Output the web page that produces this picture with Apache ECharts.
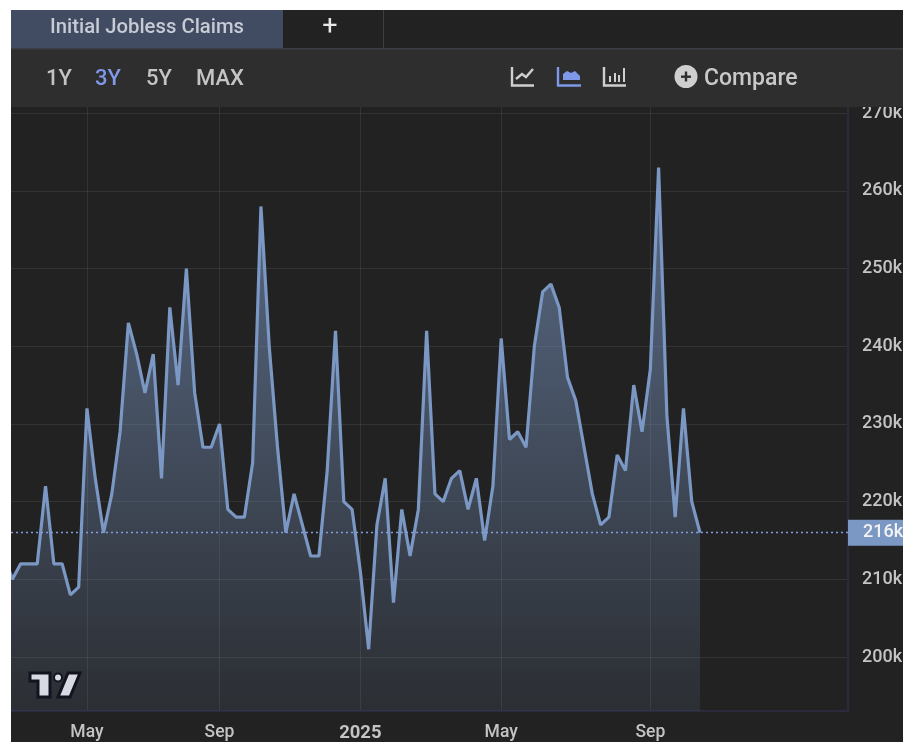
<!DOCTYPE html>
<html>
<head>
<meta charset="utf-8">
<title>Initial Jobless Claims</title>
<style>
html, body { margin: 0; padding: 0; background: #fff; }
#main { width: 903px; height: 742px; }
</style>
<script src="https://cdn.jsdelivr.net/npm/echarts@6/dist/echarts.min.js"></script>
</head>
<body>
<div id="main"></div>
<script>
"use strict";
// weekly claims in thousands. first one is cut by the left edge
var claims = [213, 210, 212, 212, 212, 222, 212, 212, 208, 209,
    232, 223, 216, 221, 229, 243, 239, 234, 239, 223,
    245, 235, 250, 234, 227, 227, 230, 219, 218, 218,
    225, 258, 240, 227, 216, 221, 217, 213, 213, 224,
    242, 220, 219, 211, 201, 217, 223, 207, 219, 213,
    219, 242, 221, 220, 223, 224, 219, 223, 215, 222,
    241, 228, 229, 227, 240, 247, 248, 245, 236, 233,
    227, 221, 217, 218, 226, 224, 235, 229, 237, 263,
    231, 218, 232, 220, 216];
var lastClaim = 216;
var tickWeeks = [10, 26, 43, 60, 78];
var tickLabels = ["May", "Sep", "2025", "May", "Sep"];
var yTicks = [200, 210, 220, 230, 240, 250, 260, 270];
var ranges = ["1Y", "3Y", "5Y", "MAX"];
var rangeX = [46, 95, 146, 196];

var fontName = "Roboto";
var lineColor = "#7b97c4";
var activeColor = "#7f98ea";
var iconColor = "#cfcfcf";

var chartDom = document.getElementById("main");
var myChart = echarts.init(chartDom, null, { renderer: "canvas" });

function lineData() {
    return claims.map(function (v, i) { return [i, v]; });
}

// header strip, logo etc. everything the plot doesn't draw itself
function shell() {
    var els = [
        { type: "rect", z: 100, shape: { x: 0, y: 10, width: 903, height: 39 }, style: { fill: "#222222" } },
        { type: "rect", z: 100, shape: { x: 0, y: 49, width: 903, height: 58 }, style: { fill: "#2e2e2e" } },
        { type: "rect", z: 101, shape: { x: 11, y: 48, width: 892, height: 1.5 }, style: { fill: "#3b3f45" } },
        { type: "rect", z: 101, shape: { x: 11, y: 10, width: 272, height: 38 }, style: { fill: "#414b62" } },
        { type: "rect", z: 101, shape: { x: 383, y: 10, width: 1, height: 38 }, style: { fill: "#3b3f45" } },
        { type: "rect", z: 102, shape: { x: 0, y: 0, width: 903, height: 10 }, style: { fill: "#ffffff" } },
        { type: "rect", z: 102, shape: { x: 0, y: 0, width: 11, height: 742 }, style: { fill: "#ffffff" } },
        { type: "text", z: 103, style: { x: 50, y: 28, text: "Initial Jobless Claims", fill: "#c6cbd4", font: "500 20.3px " + fontName, verticalAlign: "middle" } },
        { type: "text", z: 103, style: { x: 330, y: 27, text: "+", fill: "#e8e8e8", font: "27px " + fontName, align: "center", verticalAlign: "middle" } },
        { type: "text", z: 103, style: { x: 704, y: 79, text: "Compare", fill: "#c8c8c8", font: "500 23px " + fontName, verticalAlign: "middle" } },
        { type: "circle", z: 103, shape: { cx: 686, cy: 76.5, r: 11.5 }, style: { fill: iconColor } },
        { type: "rect", z: 104, shape: { x: 681, y: 75.5, width: 10, height: 2.4 }, style: { fill: "#2e2e2e" } },
        { type: "rect", z: 104, shape: { x: 684.8, y: 71.5, width: 2.4, height: 10 }, style: { fill: "#2e2e2e" } },

        // line icon
        { type: "polyline", z: 103, shape: { points: [[512, 67], [512, 85.5], [534, 85.5]] }, style: { stroke: iconColor, lineWidth: 2.4, fill: null } },
        { type: "polyline", z: 103, shape: { points: [[516, 79], [522, 74], [526, 77], [533, 69]] }, style: { stroke: iconColor, lineWidth: 2.4, fill: null } },
        // area icon
        { type: "polyline", z: 103, shape: { points: [[558, 67], [558, 85.5], [581, 85.5]] }, style: { stroke: activeColor, lineWidth: 2.4, fill: null } },
        { type: "polygon", z: 103, shape: { points: [[563, 80], [563, 74], [567, 71], [571, 73], [575, 71], [580, 76], [580, 80]] }, style: { fill: activeColor } },
        // bars icon
        { type: "polyline", z: 103, shape: { points: [[604, 67], [604, 85.5], [626, 85.5]] }, style: { stroke: iconColor, lineWidth: 2.4, fill: null } },
        { type: "rect", z: 103, shape: { x: 609, y: 76, width: 2, height: 6 }, style: { fill: iconColor } },
        { type: "rect", z: 103, shape: { x: 614, y: 73, width: 2, height: 9 }, style: { fill: iconColor } },
        { type: "rect", z: 103, shape: { x: 618, y: 75, width: 2, height: 7 }, style: { fill: iconColor } },
        { type: "rect", z: 103, shape: { x: 623, y: 68, width: 2, height: 14 }, style: { fill: iconColor } },

        // logo
        { type: "polygon", z: 103, shape: { points: [[30, 673], [50, 673], [50, 697], [38, 697], [38, 681], [30, 681]] }, style: { fill: "#d8dae3", stroke: "#12131f", lineWidth: 3 } },
        { type: "circle", z: 103, shape: { cx: 58, cy: 677.5, r: 4 }, style: { fill: "#d8dae3", stroke: "#12131f", lineWidth: 2 } },
        { type: "polygon", z: 103, shape: { points: [[68, 673], [80, 673], [70, 697], [58, 697]] }, style: { fill: "#d8dae3", stroke: "#12131f", lineWidth: 3 } }
    ];
    ranges.forEach(function (r, i) {
        els.push({
            type: "text", z: 103,
            style: { x: rangeX[i], y: 79, text: r, fill: r === "3Y" ? activeColor : "#c4c4c4", font: "500 22px " + fontName, verticalAlign: "middle" }
        });
    });
    return els;
}

var option = {
    animation: false,
    backgroundColor: "#222222",
    textStyle: { fontFamily: fontName },
    // v6 shrinks the grid to fit labels unless told not to
    grid: { left: 11, right: 55, top: 107, bottom: 31, outerBoundsMode: "none" },
    xAxis: {
        type: "value",
        min: 0.831,
        max: 101.86,
        axisLine: { show: true, onZero: false, lineStyle: { color: "#2a2a3c", width: 2 } },
        axisTick: { show: false, customValues: tickWeeks },
        splitLine: { show: true, lineStyle: { color: "rgba(255,255,255,0.08)", width: 1 } },
        axisLabel: {
            customValues: tickWeeks,
            color: "#c4c4c4",
            fontSize: 17.5,
            fontWeight: 500,
            margin: 13,
            formatter: function (v) {
                var s = tickLabels[tickWeeks.indexOf(v)];
                return s === "2025" ? "{b|" + s + "}" : s;
            },
            rich: { b: { fontWeight: "bold", fontSize: 18.5, color: "#c4c4c4", fontFamily: fontName } }
        }
    },
    yAxis: {
        type: "value",
        position: "right",
        min: 193.05,
        max: 270.8,
        axisLine: { show: true, lineStyle: { color: "#2a2a3c", width: 2 } },
        axisTick: { show: false, customValues: yTicks },
        splitLine: { show: true, lineStyle: { color: "rgba(255,255,255,0.08)", width: 1 } },
        axisLabel: {
            customValues: yTicks,
            color: "#c4c4c4",
            fontSize: 18,
            fontWeight: 500,
            margin: 14,
            padding: [3, 0, 0, 0],
            formatter: function (v) { return v + "k"; }
        }
    },
    series: [{
        type: "line",
        data: lineData(),
        showSymbol: false,
        lineStyle: { color: lineColor, width: 3.2 },
        areaStyle: {
            color: new echarts.graphic.LinearGradient(0, 0, 0, 1, [
                { offset: 0, color: "rgba(123,151,196,0.9)" },
                { offset: 1, color: "rgba(123,151,196,0.15)" }
            ])
        },
        markLine: {
            silent: true,
            symbol: "none",
            animation: false,
            lineStyle: { color: "#7f9fe0", type: [2, 3], width: 1.3 },
            label: {
                position: "end",
                distance: 0,
                formatter: lastClaim + "k",
                color: "#f2f2f2",
                fontSize: 18,
                fontWeight: 500,
                fontFamily: fontName,
                backgroundColor: lineColor,
                lineHeight: 26,
                padding: [0, 12, 0, 15]
            },
            data: [{ yAxis: lastClaim }]
        }
    }],
    graphic: { elements: shell() }
};

myChart.setOption(option);
</script>
</body>
</html>
